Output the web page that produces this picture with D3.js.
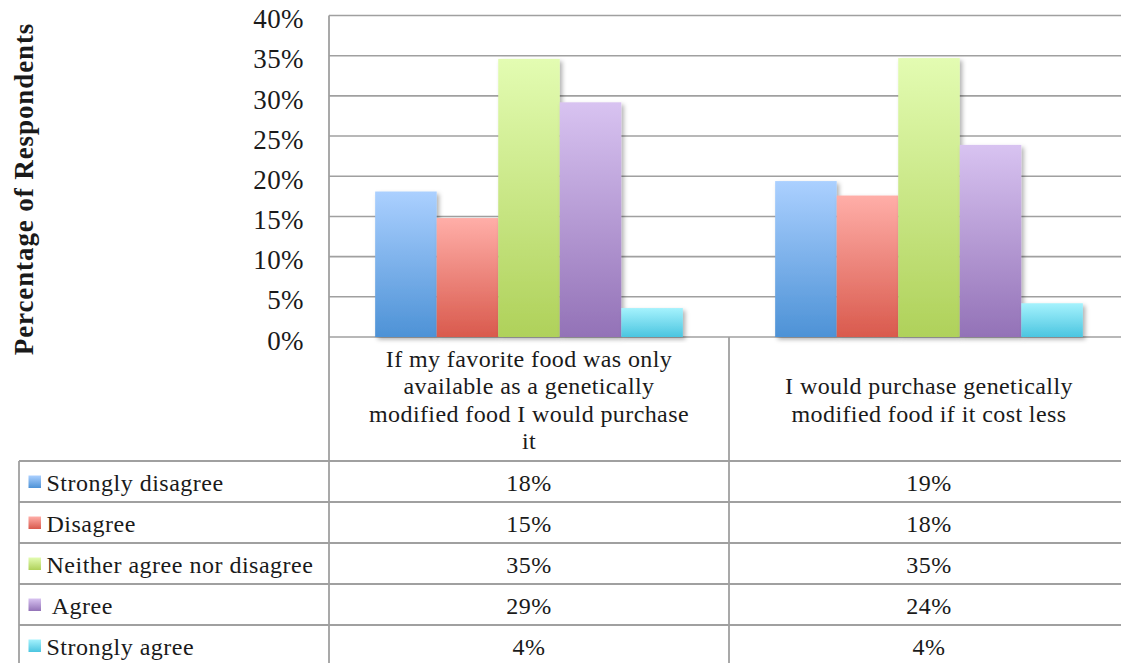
<!DOCTYPE html>
<html>
<head>
<meta charset="utf-8">
<script src="https://cdn.jsdelivr.net/npm/d3@7/dist/d3.min.js"></script>
<style>
  html, body { margin: 0; padding: 0; background: #ffffff; }
  svg { display: block; }
  text { font-family: "Liberation Serif", "Times New Roman", serif; fill: #1a1a1a; }
</style>
</head>
<body>
<svg id="chart" width="1121" height="663"></svg>
<script>
// Survey responses about purchasing genetically modified food
const categoryLines = [
  ["If my favorite food was only", "available as a genetically", "modified food I would purchase", "it"],
  ["I would purchase genetically", "modified food if it cost less"]
];
const categories = categoryLines.map(lines => lines.join(" "));
const seriesNames = ["Strongly disagree", "Disagree", "Neither agree nor disagree", "Agree", "Strongly agree"];
const legendLabels = ["Strongly disagree", "Disagree", "Neither agree nor disagree", " Agree", "Strongly agree"];
const favoriteFoodValues = [0.181, 0.148, 0.346, 0.292, 0.036];
const costLessValues = [0.194, 0.176, 0.347, 0.239, 0.042];
const yTickValues = [0, 0.05, 0.10, 0.15, 0.20, 0.25, 0.30, 0.35, 0.40];
const seriesGradients = [
  ["#abd0ff", "#4d92d6"],
  ["#ffaea8", "#d95a4d"],
  ["#e3fcb2", "#afd15a"],
  ["#d8c3f1", "#9372b7"],
  ["#a5f2fd", "#4bc5e0"]
];
const yAxisTitle = "Percentage of Respondents";

const valuesByCategory = [favoriteFoodValues, costLessValues];
const fmt = d3.format(".0%");

const svg = d3.select("#chart");
const W = 1121, H = 663;
const plot = { left: 329, right: 1129, top: 15.5, bottom: 337 };
const table = { left: 19, top: 461, rowH: 41 };
const gridColor = "#a0a0a0";

const x0 = d3.scaleBand().domain(categories).range([plot.left, plot.right]).paddingInner(0).paddingOuter(0);
const x1 = d3.scaleBand().domain(seriesNames).range([0, x0.bandwidth()]).paddingInner(0).paddingOuter(0.75);
const y = d3.scaleLinear().domain([0, 0.4]).range([plot.bottom, plot.top]);

const defs = svg.append("defs");
seriesNames.forEach((s, i) => {
  const g = defs.append("linearGradient").attr("id", "grad" + i)
    .attr("x1", 0).attr("y1", 0).attr("x2", 0).attr("y2", 1);
  g.append("stop").attr("offset", "0%").attr("stop-color", seriesGradients[i][0]);
  g.append("stop").attr("offset", "100%").attr("stop-color", seriesGradients[i][1]);
});
const shadow = defs.append("filter").attr("id", "barShadow")
  .attr("x", "-20%").attr("y", "-10%").attr("width", "140%").attr("height", "130%");
shadow.append("feDropShadow").attr("dx", 2.5).attr("dy", 2.5).attr("stdDeviation", 2)
  .attr("flood-color", "#000").attr("flood-opacity", 0.3);

// Horizontal gridlines
svg.append("g").selectAll("line").data(yTickValues).join("line")
  .attr("x1", plot.left).attr("x2", plot.right)
  .attr("y1", d => y(d)).attr("y2", d => y(d))
  .attr("stroke", gridColor).attr("stroke-width", 1.6);

// Y axis labels
const yAxis = d3.axisLeft(y).tickValues(yTickValues).tickFormat(fmt).tickSize(0).tickPadding(25);
const yAxisG = svg.append("g").attr("transform", `translate(${plot.left},0)`).call(yAxis);
yAxisG.select(".domain").remove();
yAxisG.selectAll("text")
  .attr("dy", "0.45em")
  .style("font-family", '"Liberation Serif", serif')
  .style("font-size", "27px")
  .style("letter-spacing", "0.4px")
  .attr("fill", "#1a1a1a");

// Y axis title
svg.append("text")
  .attr("transform", "translate(33,189) rotate(-90)")
  .attr("text-anchor", "middle")
  .style("font-size", "27px")
  .style("font-weight", "bold")
  .style("letter-spacing", "0.9px")
  .text(yAxisTitle);

// Bars
const groups = svg.append("g").selectAll("g").data(categories).join("g")
  .attr("transform", d => `translate(${x0(d)},0)`);
groups.selectAll("rect")
  .data((c, ci) => seriesNames.map((s, si) => ({ s, si, v: valuesByCategory[ci][si] })))
  .join("rect")
  .attr("x", d => x1(d.s))
  .attr("y", d => y(d.v))
  .attr("width", x1.bandwidth())
  .attr("height", d => y(0) - y(d.v))
  .attr("fill", d => `url(#grad${d.si})`)
  .attr("filter", "url(#barShadow)");

// Category axis labels
categories.forEach((c, ci) => {
  const lines = categoryLines[ci];
  const lineH = 27.5;
  const midY = (plot.bottom + table.top) / 2 + 9;
  const t = svg.append("text")
    .attr("text-anchor", "middle")
    .style("font-size", "24px")
    .style("letter-spacing", "0.4px");
  lines.forEach((ln, li) => {
    t.append("tspan")
      .attr("x", x0(c) + x0.bandwidth() / 2)
      .attr("y", midY + (li - (lines.length - 1) / 2) * lineH)
      .text(ln);
  });
});

// Data table
const rowY = i => table.top + i * table.rowH;
const tableBottom = rowY(seriesNames.length);
const lines = svg.append("g").attr("stroke", gridColor).attr("stroke-width", 1.8);
seriesNames.forEach((s, i) => {
  lines.append("line").attr("x1", table.left).attr("x2", plot.right)
    .attr("y1", rowY(i)).attr("y2", rowY(i));
});
lines.append("line").attr("x1", table.left).attr("x2", table.left).attr("y1", table.top).attr("y2", tableBottom);
lines.append("line").attr("x1", plot.left).attr("x2", plot.left).attr("y1", plot.top).attr("y2", tableBottom);
categories.forEach(c => {
  const xr = x0(c) + x0.bandwidth();
  lines.append("line").attr("x1", xr).attr("x2", xr).attr("y1", plot.bottom).attr("y2", tableBottom);
});

seriesNames.forEach((s, i) => {
  const yc = rowY(i) + table.rowH / 2;
  svg.append("rect")
    .attr("x", 28.5).attr("y", yc - 6).attr("width", 12.5).attr("height", 12.5)
    .attr("fill", `url(#grad${i})`);
  svg.append("text")
    .attr("x", 46.5).attr("y", yc + 9.5)
    .style("font-size", "24px")
    .style("letter-spacing", "0.5px")
    .style("white-space", "pre")
    .text(legendLabels[i]);
  categories.forEach((c, ci) => {
    svg.append("text")
      .attr("x", x0(c) + x0.bandwidth() / 2)
      .attr("y", yc + 9.5)
      .attr("text-anchor", "middle")
      .style("font-size", "24px")
      .style("letter-spacing", "0.5px")
      .text(fmt(valuesByCategory[ci][i]));
  });
});
</script>
</body>
</html>
